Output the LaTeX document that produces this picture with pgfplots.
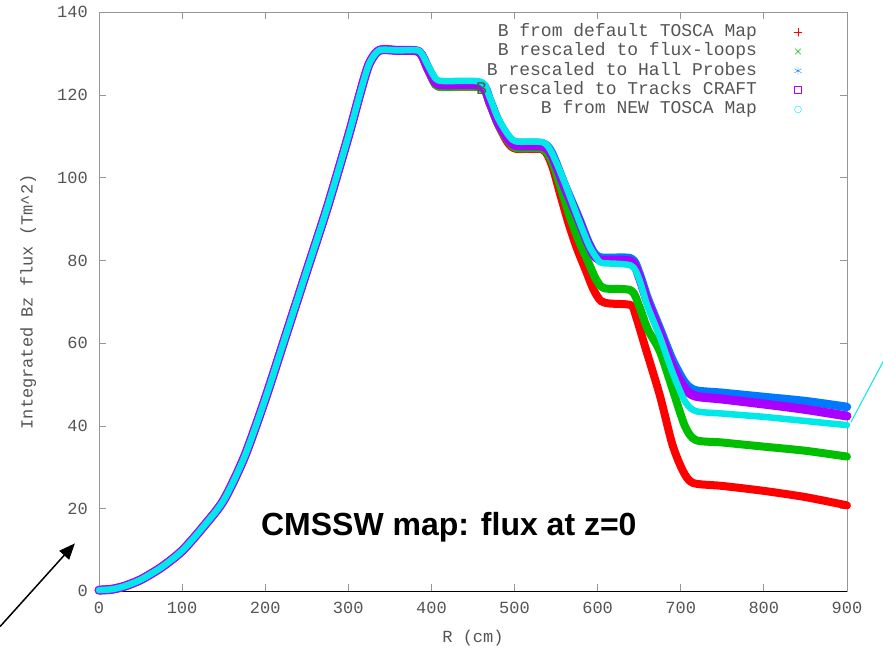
\documentclass[border=0pt]{standalone}
\usepackage{fontspec}
\setmainfont{Liberation Sans}
\newfontfamily\gpfont{Liberation Mono}
\usepackage{pgfplots}
\pgfplotsset{compat=1.18}
\usetikzlibrary{arrows.meta}
\definecolor{gpred}{RGB}{255,0,0}
\definecolor{gpgreen}{RGB}{0,190,0}
\definecolor{gpblue}{RGB}{0,120,255}
\definecolor{gpmag}{RGB}{170,0,255}
\definecolor{gpcyan}{RGB}{0,232,232}
\definecolor{gptext}{RGB}{85,85,85}
\definecolor{gpborder}{RGB}{150,150,150}
\begin{document}
\begin{tikzpicture}
\begin{axis}[
 scale only axis, width=748pt, height=579pt,
 xmin=0,xmax=900,ymin=0,ymax=140,
 xtick={0,100,...,900}, ytick={0,20,...,140},
 tick align=inside, major tick length=7pt,
 axis line style={gpborder, line width=0.8pt},
 every tick/.style={gpborder, line width=0.8pt},
 tick label style={font=\gpfont\fontsize{17}{17}\selectfont, text=gptext, inner sep=0pt},
 /pgf/number format/assume math mode=true,
 xticklabel style={yshift=-11pt},
 yticklabel style={xshift=-11pt},
 xlabel={R (cm)}, ylabel={Integrated Bz flux (Tm\textasciicircum 2)},
 every axis x label/.style={at={(axis cs:450,-11.3)}, anchor=center, font=\gpfont\fontsize{17}{17}\selectfont, text=gptext},
 every axis y label/.style={at={(axis cs:-85,70)}, anchor=center, rotate=90, font=\gpfont\fontsize{17}{17}\selectfont, text=gptext},
 clip=false,
 legend cell align=right, legend plot pos=right,
 legend image code/.code={\path[draw=none,fill=none] (0pt,-4pt) rectangle (46pt,4pt); \draw[#1] plot coordinates {(41pt,0pt)};},
 legend style={draw=none, fill=none, at={(axis cs:851,137.8)}, anchor=north east,
   font=\gpfont\fontsize{18}{18}\selectfont, text=gptext, row sep=2.3pt,
   nodes={inner sep=0pt, text height=13pt, text depth=4pt}},
 every axis plot/.append style={smooth, tension=0.45, line join=round, line cap=round},
]
\draw[black, line width=0.9pt] (axis cs:0,0) -- (axis cs:900,0);
\addplot[gpred, line width=8pt, forget plot] coordinates {
(0,0.3)(15,0.5)(30,1.2)(50,2.8)(75,5.8)(100,9.8)(125,15.5)(150,22)(175,32.5)(200,46.5)(225,62)(250,77.5)(275,93)(300,110)(315,121)(325,127.5)(337,130.8)(360,130.8)(385,130.5)(395,126.5)(405,122.5)(415,122)(460,121.8)(470,118)(480,113)(492,108.5)(502,107)(534,106.8)
(545,103)(555,96)(565,89)(575,83)(585,78)(595,73)(604,70.2)(615,69.6)(640,69.2)(646,66.6)(658,58.6)(675,47.3)(690,35.5)(703,29)(715,26.2)(750,25.5)(800,24.3)(850,22.8)(900,20.8)};
\addplot[gpgreen, line width=8pt, forget plot] coordinates {
(0,0.3)(15,0.5)(30,1.2)(50,2.8)(75,5.8)(100,9.8)(125,15.5)(150,22)(175,32.5)(200,46.5)(225,62)(250,77.5)(275,93)(300,110)(315,121)(325,127.5)(337,130.8)(360,130.8)(385,130.5)(395,126.5)(405,122.5)(415,122)(460,121.8)(470,118)(480,113)(492,109)(502,107.2)(534,107)
(545,104)(555,98)(566,91)(577,85)(588,80)(598,75.5)(608,73.3)(640,72.8)(650,69)(660,63.5)(675,58)(690,49)(705,40)(718,36.6)(750,36)(800,35)(850,34)(900,32.6)};
\addplot[gpblue, line width=8.5pt, forget plot] coordinates {
(0,0.3)(15,0.5)(30,1.2)(50,2.8)(75,5.8)(100,9.8)(125,15.5)(150,22)(175,32.5)(200,46.5)(225,62)(250,77.5)(275,93)(300,110)(315,121)(325,127.5)(337,130.8)(360,130.8)(385,130.5)(395,127)(405,123.5)(415,123)(460,122.8)(470,119)(480,114)(492,110)(502,108.5)(534,108.3)
(545,106)(560,98.5)(577,90.5)(590,84)(602,80.8)(640,80.5)(650,77)(660,71)(675,63.5)(690,56)(705,50.5)(718,48.6)(750,48)(800,47)(850,46)(900,44.6)};
\addplot[gpmag, line width=9pt, forget plot] coordinates {
(0,0.3)(15,0.5)(30,1.2)(50,2.8)(75,5.8)(100,9.8)(125,15.5)(150,22)(175,32.5)(200,46.5)(225,62)(250,77.5)(275,93)(300,110)(315,121)(325,127.5)(337,130.8)(360,130.8)(385,130.5)(395,126.8)(405,123)(415,122.5)(460,122.3)(470,118.5)(480,113.5)(492,109.5)(502,107.8)(534,107.6)
(545,105.5)(560,98)(577,90)(590,83.5)(602,80.2)(640,79.8)(650,76)(660,70)(675,62.5)(690,54.5)(705,49)(718,47.2)(750,46.5)(800,45.3)(850,44)(900,42.4)};
\addplot[gpcyan, line width=6.5pt, forget plot] coordinates {
(0,0.3)(15,0.5)(30,1.2)(50,2.8)(75,5.8)(100,9.8)(125,15.5)(150,22)(175,32.5)(200,46.5)(225,62)(250,77.5)(275,93)(300,110)(315,121)(325,127.5)(337,130.8)(360,130.8)(385,130.7)(395,127.5)(405,124)(415,123.4)(460,123.2)(470,119.5)(480,114.5)(492,110.5)(502,108.8)(534,108.6)
(545,106)(560,99)(577,90)(590,83.5)(600,80.3)(606,79.4)(640,78.8)(650,75.5)(660,69)(675,61.5)(690,53)(705,46)(718,43.6)(750,43)(800,42.2)(850,41.2)(900,40.2)};
% stray cyan segment leaving the frame on the right
\addplot[gpcyan, line width=1pt, sharp plot, forget plot] coordinates {(905,41)(950,58)};
\addlegendimage{only marks, mark=+, gpred, mark size=4pt}
\addlegendentry{B from default TOSCA Map}
\addlegendimage{only marks, mark=x, gpgreen, mark size=4pt}
\addlegendentry{B rescaled to flux-loops}
\addlegendimage{only marks, mark=asterisk, gpblue, mark size=4pt}
\addlegendentry{B rescaled to Hall Probes}
\addlegendimage{only marks, mark=square, gpmag, mark size=3.5pt, thick}
\addlegendentry{B rescaled to Tracks CRAFT}
\addlegendimage{only marks, mark=o, gpcyan, mark size=3.5pt}
\addlegendentry{B from NEW TOSCA Map}
\node[font=\fontsize{32}{32}\selectfont\bfseries, text=black] at (axis cs:421,15.5) {CMSSW map: flux at z=0};
\draw[-{Triangle[length=16pt,width=13pt]}, line width=1.5pt, black] (axis cs:-119,-8.5) -- (axis cs:-29,11.6);
\coordinate (bbl) at (axis cs:-119.1,-14.2);
\coordinate (btr) at (axis cs:943.4,143.0);
\end{axis}
\pgfresetboundingbox
\path (bbl) rectangle (btr);
\end{tikzpicture}
\end{document}
